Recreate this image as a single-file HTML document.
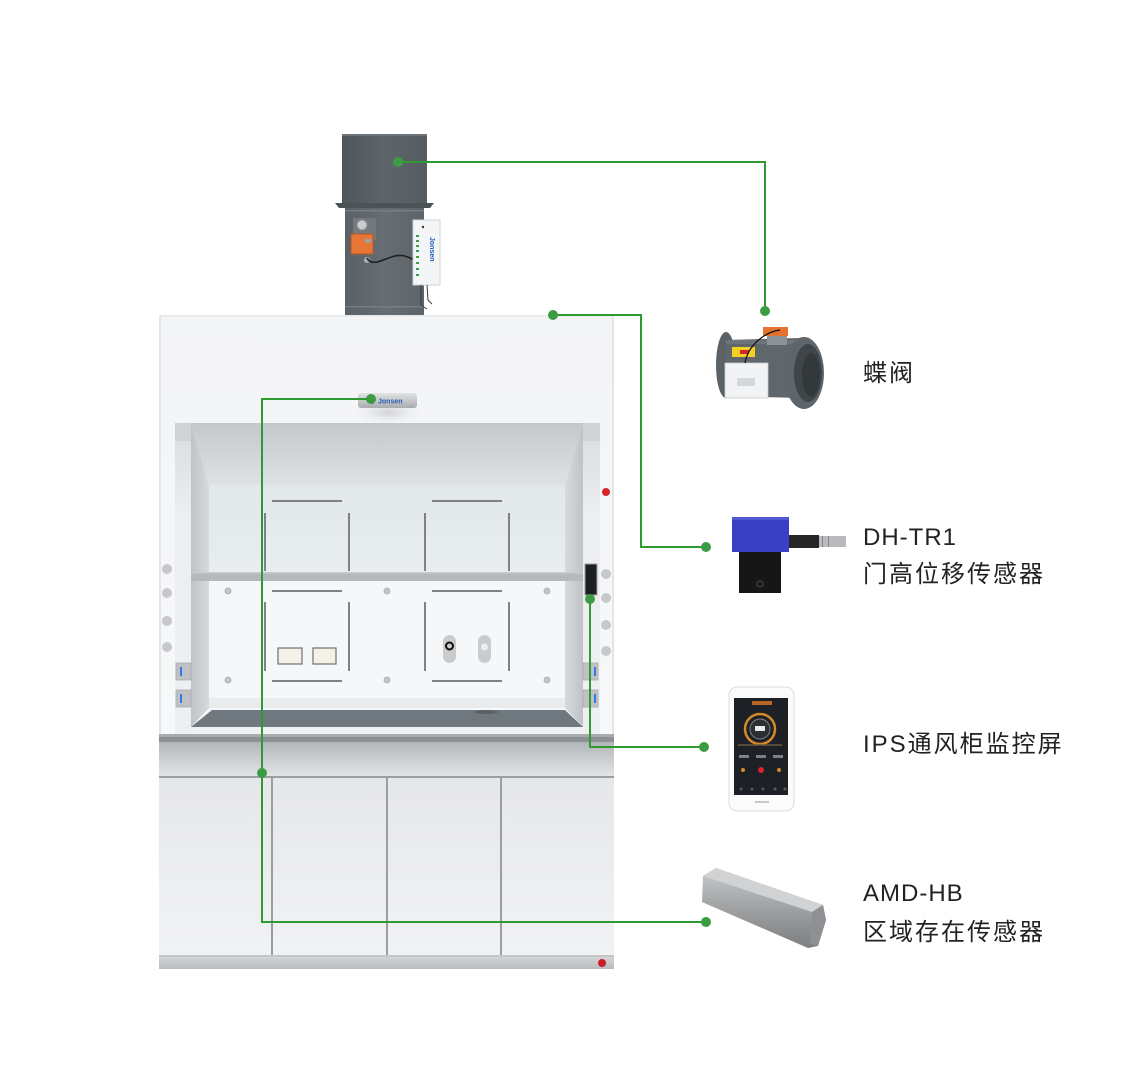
<!DOCTYPE html>
<html><head><meta charset="utf-8"><style>
html,body{margin:0;padding:0;background:#fff;}
body{width:1140px;height:1078px;overflow:hidden;}
svg{display:block;}
</style></head><body>
<svg width="1140" height="1078" viewBox="0 0 1140 1078" xmlns="http://www.w3.org/2000/svg">
<defs>
<linearGradient id="ductU" x1="0" x2="1" y1="0" y2="0"><stop offset="0" stop-color="#4f565b"/><stop offset="0.5" stop-color="#5e656a"/><stop offset="1" stop-color="#565d62"/></linearGradient>
<linearGradient id="ductL" x1="0" x2="1" y1="0" y2="0"><stop offset="0" stop-color="#5a6166"/><stop offset="0.5" stop-color="#676e73"/><stop offset="1" stop-color="#5d6469"/></linearGradient>
<linearGradient id="hoodTop" x1="0" x2="0" y1="0" y2="1"><stop offset="0" stop-color="#f3f4f6"/><stop offset="1" stop-color="#f7f8f9"/></linearGradient>
<linearGradient id="ceil" x1="0" x2="0" y1="0" y2="1"><stop offset="0" stop-color="#c3c8cb"/><stop offset="1" stop-color="#dde2e4"/></linearGradient>
<linearGradient id="backU" x1="0" x2="0" y1="0" y2="1"><stop offset="0" stop-color="#e2e8ea"/><stop offset="1" stop-color="#e8edef"/></linearGradient>
<linearGradient id="sideL" x1="0" x2="1" y1="0" y2="0"><stop offset="0" stop-color="#bfc3c6"/><stop offset="1" stop-color="#d6dadc"/></linearGradient>
<linearGradient id="sideR" x1="1" x2="0" y1="0" y2="0"><stop offset="0" stop-color="#bfc3c6"/><stop offset="1" stop-color="#d6dadc"/></linearGradient>
<linearGradient id="frameL" x1="0" x2="0" y1="0" y2="1"><stop offset="0" stop-color="#d9dbdd"/><stop offset="0.3" stop-color="#eceef0"/><stop offset="1" stop-color="#eeeff1"/></linearGradient>
<linearGradient id="band" x1="0" x2="0" y1="0" y2="1"><stop offset="0" stop-color="#b3b6b9"/><stop offset="1" stop-color="#e4e5e7"/></linearGradient>
<linearGradient id="door" x1="0" x2="0" y1="0" y2="1"><stop offset="0" stop-color="#e6e7e9"/><stop offset="1" stop-color="#f1f2f4"/></linearGradient>
<linearGradient id="base" x1="0" x2="0" y1="0" y2="1"><stop offset="0" stop-color="#d2d4d6"/><stop offset="1" stop-color="#b9bbbe"/></linearGradient>
<linearGradient id="bar" x1="0" x2="0" y1="0" y2="1"><stop offset="0" stop-color="#e2e3e5"/><stop offset="1" stop-color="#a9abae"/></linearGradient>
<linearGradient id="amd" x1="0" x2="0" y1="0" y2="1"><stop offset="0" stop-color="#c9cbcd"/><stop offset="0.45" stop-color="#a3a5a7"/><stop offset="1" stop-color="#7c7e80"/></linearGradient>
<radialGradient id="shad" cx="0.5" cy="0.3" r="0.5"><stop offset="0" stop-color="#c8cacc" stop-opacity="0.8"/><stop offset="1" stop-color="#f3f4f6" stop-opacity="0"/></radialGradient>
</defs>

<!-- Duct -->
<rect x="342" y="134" width="85" height="70" fill="url(#ductU)"/>
<rect x="342" y="134" width="85" height="2" fill="#6d7479"/>
<polygon points="335,203 434,203 430,208 339,208" fill="#4c5357"/>
<rect x="345" y="208" width="79" height="107" fill="url(#ductL)"/>
<rect x="345" y="210" width="79" height="1.5" fill="#777e83"/>
<rect x="345" y="306" width="79" height="1.5" fill="#777e83"/>
<!-- actuator -->
<rect x="353" y="218" width="23" height="22" fill="#72787d"/>
<circle cx="362" cy="225" r="5" fill="#c9cbcd" stroke="#8d9194"/>
<rect x="351" y="234" width="22" height="20" fill="#e77534" stroke="#b4582a" stroke-width="1"/>
<rect x="365" y="239" width="6" height="4" fill="#9aa0a4"/>
<circle cx="367" cy="260" r="3" fill="#a8adb0"/>
<path d="M367,258 C372,268 385,258 395,256 C405,254 410,258 418,262" fill="none" stroke="#1e1f20" stroke-width="1.6"/>
<!-- sensor box -->
<rect x="413" y="220" width="27" height="65" fill="#f4f5f6" stroke="#cfd2d4" stroke-width="1"/>
<circle cx="423" cy="227" r="1.2" fill="#333"/>
<g fill="#3aa046"><rect x="416" y="235" width="3" height="2"/><rect x="416" y="240" width="3" height="2"/><rect x="416" y="245" width="3" height="2"/><rect x="416" y="250" width="3" height="2"/><rect x="416" y="256" width="3" height="2"/><rect x="416" y="262" width="3" height="2"/><rect x="416" y="268" width="3" height="2"/><rect x="416" y="274" width="3" height="2"/></g>
<text x="0" y="0" transform="translate(430,237) rotate(90)" font-family="Liberation Sans, sans-serif" font-size="7" font-weight="bold" fill="#1f5fb5">Jonsen</text>
<path d="M421,285 L421,305 L427,309 M427,285 L428,300 L432,304" fill="none" stroke="#3a3d40" stroke-width="1"/>

<!-- Hood body -->
<rect x="159" y="315" width="455" height="420" fill="url(#hoodTop)"/>
<rect x="159" y="315" width="2" height="420" fill="#e3e5e7"/>
<rect x="612" y="315" width="2" height="420" fill="#e3e5e7"/>
<rect x="159" y="315" width="455" height="1.5" fill="#e6e8ea"/>
<ellipse cx="388" cy="418" rx="40" ry="14" fill="url(#shad)"/>
<!-- jonsen bar -->
<rect x="358" y="393" width="59" height="15" rx="3" fill="url(#bar)"/>
<text x="378" y="403.5" font-family="Liberation Sans, sans-serif" font-size="7" font-weight="bold" fill="#2a5fae">Jonsen</text>
<path d="M374,397 l-2,7" stroke="#2a5fae" stroke-width="1.5"/>

<!-- Opening -->
<rect x="175" y="423" width="16" height="312" fill="url(#frameL)"/>
<rect x="583" y="423" width="17" height="312" fill="url(#frameL)"/>
<rect x="175" y="423" width="16" height="18" fill="#d0d3d5"/>
<rect x="583" y="423" width="17" height="18" fill="#d0d3d5"/>
<polygon points="191,423 583,423 565,485 209,485" fill="url(#ceil)"/>
<polygon points="191,423 209,485 209,708 191,727" fill="url(#sideL)"/>
<polygon points="583,423 565,485 565,708 583,727" fill="url(#sideR)"/>
<rect x="209" y="485" width="356" height="87" fill="url(#backU)"/>
<rect x="191" y="572" width="392" height="9" fill="#b6b9bc"/>
<rect x="191" y="572" width="392" height="1.5" fill="#c9cccf"/>
<rect x="209" y="581" width="356" height="117" fill="#f6f7f8"/>
<rect x="209" y="698" width="356" height="10" fill="#e9ebec"/>
<polygon points="212,710 565,710 583,727 191,727" fill="#6f787f"/>
<rect x="191" y="727" width="392" height="7" fill="#f0f1f2"/>

<!-- back fixtures -->
<g stroke="#7f8285" stroke-width="2" fill="none">
<line x1="272" y1="501" x2="342" y2="501"/><line x1="432" y1="501" x2="502" y2="501"/>
<line x1="265" y1="513" x2="265" y2="571"/><line x1="349" y1="513" x2="349" y2="571"/>
<line x1="425" y1="513" x2="425" y2="571"/><line x1="509" y1="513" x2="509" y2="571"/>
<line x1="272" y1="591" x2="342" y2="591"/><line x1="432" y1="591" x2="502" y2="591"/>
<line x1="272" y1="681" x2="342" y2="681"/><line x1="432" y1="681" x2="502" y2="681"/>
<line x1="265" y1="602" x2="265" y2="671"/><line x1="349" y1="602" x2="349" y2="671"/>
<line x1="425" y1="602" x2="425" y2="671"/><line x1="509" y1="602" x2="509" y2="671"/>
</g>
<g fill="#c4c6c8" stroke="#a5a8ab" stroke-width="0.8">
<circle cx="228" cy="591" r="3"/><circle cx="387" cy="591" r="3"/><circle cx="547" cy="591" r="3"/>
<circle cx="228" cy="680" r="3"/><circle cx="387" cy="680" r="3"/><circle cx="547" cy="680" r="3"/>
</g>
<rect x="278" y="648" width="24" height="16" fill="#f4f1e6" stroke="#6f7174" stroke-width="1.2"/>
<rect x="313" y="648" width="23" height="16" fill="#f4f1e6" stroke="#6f7174" stroke-width="1.2"/>
<rect x="443" y="635" width="13" height="28" rx="6.5" fill="#c9cbcd"/>
<circle cx="449.5" cy="646" r="3.5" fill="none" stroke="#111" stroke-width="2"/>
<rect x="478" y="635" width="13" height="28" rx="6.5" fill="#c9cbcd"/>
<circle cx="484.5" cy="647" r="3.5" fill="#eceeef"/>
<ellipse cx="486" cy="712" rx="12" ry="2" fill="#5a6268"/>

<!-- side posts details -->
<g fill="#c6c8ca">
<circle cx="167" cy="569" r="5"/><circle cx="167" cy="593" r="5"/><circle cx="167" cy="621" r="5"/><circle cx="167" cy="647" r="5"/>
<circle cx="606" cy="574" r="5"/><circle cx="606" cy="598" r="5"/><circle cx="606" cy="625" r="5"/><circle cx="606" cy="651" r="5"/>
</g>
<circle cx="606" cy="492" r="4" fill="#d7252a"/>
<g fill="#bfc1c4" stroke="#a9acaf" stroke-width="0.8">
<rect x="176" y="663" width="15" height="17"/><rect x="176" y="690" width="15" height="17"/>
<rect x="583" y="663" width="15" height="17"/><rect x="583" y="690" width="15" height="17"/>
</g>
<g fill="#2a7de2">
<rect x="180" y="667" width="2" height="9"/><rect x="180" y="694" width="2" height="9"/>
<rect x="594" y="667" width="2" height="9"/><rect x="594" y="694" width="2" height="9"/>
</g>
<rect x="585" y="564" width="12" height="31" fill="#1d1e20" stroke="#9a9da0" stroke-width="1"/>

<!-- counter -->
<rect x="159" y="734" width="455" height="3" fill="#a9acaf"/>
<rect x="159" y="737" width="455" height="5" fill="#8d9094"/>
<rect x="159" y="742" width="455" height="35" fill="url(#band)"/>
<rect x="159" y="776" width="455" height="2" fill="#9c9fa2"/>
<!-- cabinet -->
<rect x="159" y="778" width="455" height="179" fill="url(#door)"/>
<g stroke="#9b9ea1" stroke-width="2">
<line x1="272" y1="778" x2="272" y2="957"/><line x1="387" y1="778" x2="387" y2="957"/><line x1="501" y1="778" x2="501" y2="957"/>
</g>
<rect x="159" y="955" width="455" height="2" fill="#c3c5c8"/>
<rect x="159" y="957" width="455" height="12" fill="url(#base)"/>
<circle cx="602" cy="963" r="4" fill="#c82025"/>

<!-- Devices -->
<!-- butterfly valve -->
<ellipse cx="726" cy="365" rx="10" ry="33" fill="#5b6267"/>
<polygon points="726,340 800,338 800,398 726,396" fill="#60676c"/>
<rect x="726" y="340" width="74" height="4" fill="#6e757a"/>
<ellipse cx="804" cy="373" rx="20" ry="36" fill="#5f666b"/>
<ellipse cx="808" cy="373" rx="14" ry="29" fill="#3f4549"/>
<ellipse cx="811" cy="375" rx="9" ry="22" fill="#33383b"/>
<rect x="725" y="363" width="43" height="35" fill="#f2f3f4" stroke="#c9ccce" stroke-width="0.8"/>
<rect x="737" y="378" width="18" height="8" fill="#d5d7d9"/>
<rect x="732" y="347" width="23" height="10" fill="#f2d21f"/>
<rect x="740" y="350" width="9" height="4" fill="#d6262a"/>
<rect x="767" y="335" width="20" height="10" fill="#8d9296"/>
<rect x="763" y="327" width="25" height="9" fill="#e6722f"/>
<path d="M780,330 C765,332 748,345 745,363" fill="none" stroke="#111" stroke-width="1.2"/>

<!-- DH-TR1 -->
<rect x="732" y="517" width="57" height="35" fill="#3a3fc6"/>
<rect x="732" y="517" width="57" height="3" fill="#5258d4"/>
<rect x="739" y="552" width="42" height="41" fill="#161616"/>
<circle cx="760" cy="584" r="3" fill="none" stroke="#444" stroke-width="1.2"/>
<rect x="789" y="535" width="30" height="13" fill="#262626"/>
<rect x="819" y="536" width="27" height="11" fill="#b8babd"/>
<rect x="822" y="536" width="1" height="11" fill="#888"/><rect x="828" y="536" width="1" height="11" fill="#888"/>

<!-- Phone -->
<rect x="729" y="687" width="65" height="124" rx="8" fill="#fbfbfb" stroke="#dcdcdc" stroke-width="1"/>
<rect x="734" y="698" width="54" height="97" fill="#1d2024"/>
<rect x="752" y="701" width="20" height="4" fill="#b8652a"/>
<circle cx="760" cy="729" r="15" fill="none" stroke="#d48a2c" stroke-width="2.5"/>
<circle cx="760" cy="729" r="10" fill="#2b2f34" stroke="#7d8287" stroke-width="1"/>
<rect x="755" y="726" width="10" height="5" fill="#e8e8e8"/>
<path d="M738,745 L782,745" stroke="#6a5a40" stroke-width="1.5"/>
<g fill="#7d8185"><rect x="739" y="755" width="10" height="3"/><rect x="756" y="755" width="10" height="3"/><rect x="773" y="755" width="10" height="3"/></g>
<circle cx="743" cy="770" r="2" fill="#d48a2c"/><circle cx="761" cy="770" r="3" fill="#d9262b"/><circle cx="779" cy="770" r="2" fill="#d48a2c"/>
<g fill="#55595e"><circle cx="741" cy="789" r="1.5"/><circle cx="752" cy="789" r="1.5"/><circle cx="763" cy="789" r="1.5"/><circle cx="775" cy="789" r="1.5"/><circle cx="785" cy="789" r="1.5"/></g>
<rect x="755" y="801" width="14" height="2" fill="#c9c9c9"/>

<!-- AMD sensor -->
<polygon points="703,876 716,868 823,905 826,920 818,946 808,948 702,902" fill="url(#amd)"/>
<polygon points="703,876 716,868 823,905 812,912" fill="#d0d2d4"/>
<polygon points="812,912 823,905 826,920 818,946 810,944" fill="#8e9093"/>

<!-- Green connectors -->
<g fill="none" stroke="#2f9a32" stroke-width="2">
<polyline points="398,162 765,162 765,311"/>
<polyline points="553,315 641,315 641,547 706,547"/>
<polyline points="371,399 262,399 262,922 706,922"/>
<polyline points="590,599 590,747 704,747"/>
</g>
<g fill="#3c9c44">
<circle cx="398" cy="162" r="5"/><circle cx="765" cy="311" r="5"/>
<circle cx="553" cy="315" r="5"/><circle cx="706" cy="547" r="5"/>
<circle cx="371" cy="399" r="5"/><circle cx="262" cy="773" r="5"/><circle cx="706" cy="922" r="5"/>
<circle cx="590" cy="599" r="5"/><circle cx="704" cy="747" r="5"/>
</g>

<!-- Labels -->
<g font-family="Liberation Sans, 'Noto Sans CJK SC', sans-serif" font-size="24" fill="#222" letter-spacing="2">
<text x="863" y="381">蝶阀</text>
<text x="863" y="545" letter-spacing="1">DH-TR1</text>
<text x="863" y="582">门高位移传感器</text>
<text x="863" y="752">IPS通风柜监控屏</text>
<text x="863" y="901" letter-spacing="1">AMD-HB</text>
<text x="863" y="940">区域存在传感器</text>
</g>
</svg>
</body></html>
